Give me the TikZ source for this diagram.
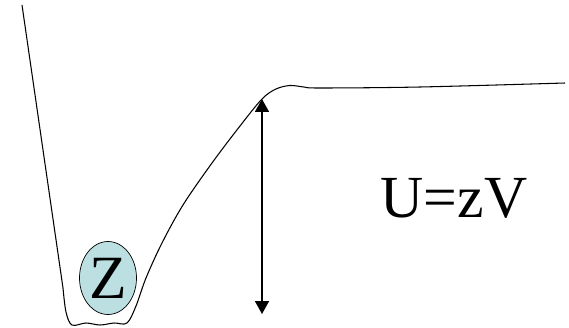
\documentclass[tikz,border=0pt]{standalone}
\usepackage{fontspec}
\setmainfont{Liberation Serif}
\usetikzlibrary{shapes.geometric,arrows.meta}
\begin{document}
\begin{tikzpicture}[x=0.02cm,y=-0.02cm]
\useasboundingbox (0,0) rectangle (569,328);
% Potentiaalput
\coordinate (L) at (22,5);
\coordinate (K) at (63,288);
\draw[line width=0.6pt] (L) -- (K);
\draw[line width=0.6pt] plot[smooth,tension=0.55] coordinates {(K) (66,312) (72,325) (86,323) (100,325) (114,323) (127,323) (136,306) (146,278) (162,243) (183,205) (212,163) (240,126) (262,99) (276,89) (290,85.5) (304,87) (320,88) (420,87) (565,83)};

% Lading
\node[ellipse,draw,fill={rgb,255:red,188;green,224;blue,226},minimum width=57*0.02cm,minimum height=73*0.02cm,inner sep=0pt,font=\fontsize{35}{35}\selectfont] (z) at (108,278) {Z};

% Hoogte
\coordinate (top) at (262,99);
\coordinate (bot) at (262,314);
\draw[line width=1pt,{Triangle[width=0.28cm,length=0.26cm]}-{Triangle[width=0.28cm,length=0.26cm]}] (top) -- (bot);
\node[font=\fontsize{34}{34}\selectfont] (U) at (454,198) {U=zV};
\end{tikzpicture}
\end{document}
